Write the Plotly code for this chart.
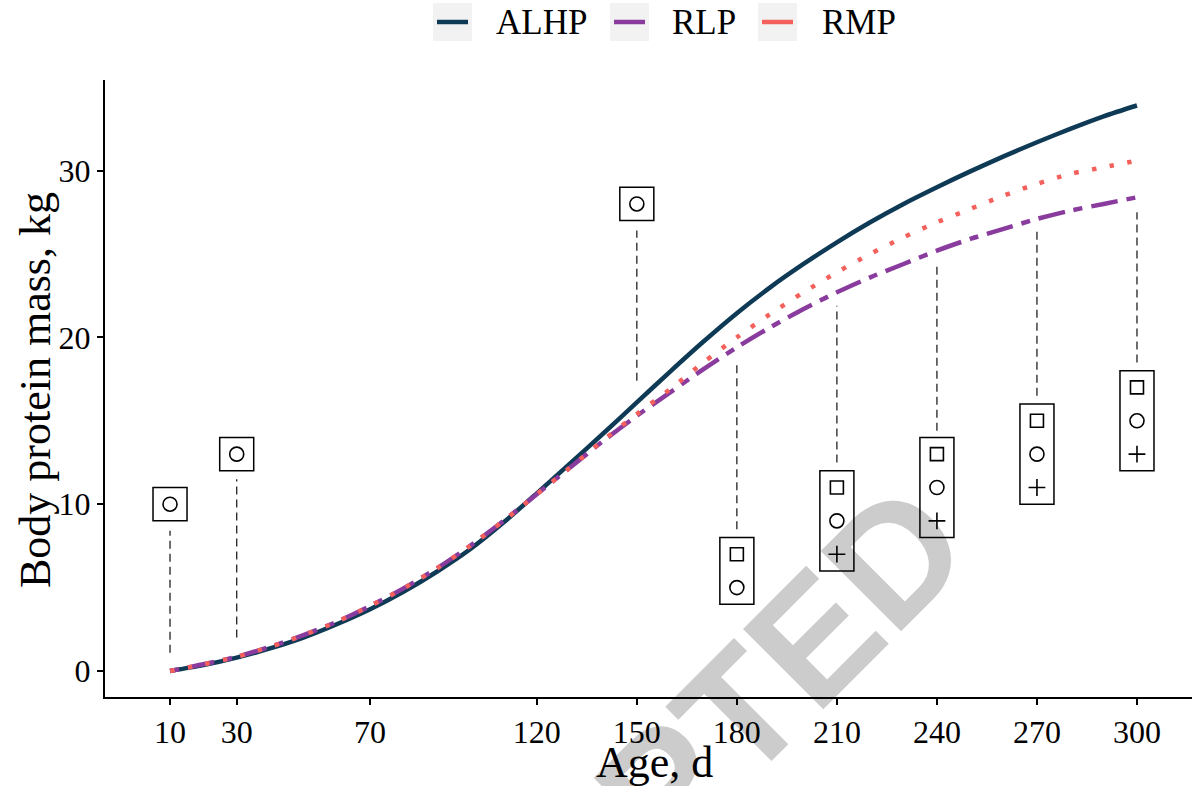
import plotly.graph_objects as go

# ---------------- data ----------------
days = [10, 20, 30, 40, 50, 60, 70, 80, 90, 100, 110, 120, 130, 140, 150,
        160, 170, 180, 190, 200, 210, 220, 230, 240, 250, 260, 270, 280, 290, 300]
alhp = [0.0, 0.35, 0.8, 1.35, 2.0, 2.8, 3.7, 4.75, 5.95, 7.3, 8.9, 10.65, 12.45, 14.25, 16.1,
        17.95, 19.75, 21.45, 23.0, 24.4, 25.7, 26.9, 28.0, 29.0, 29.95, 30.85, 31.7, 32.5, 33.25, 33.9]
rlp = [0.0, 0.4, 0.85, 1.45, 2.15, 2.95, 3.9, 4.95, 6.15, 7.5, 9.0, 10.6, 12.2, 13.8, 15.3,
       16.7, 18.1, 19.4, 20.6, 21.7, 22.7, 23.6, 24.4, 25.2, 25.9, 26.5, 27.1, 27.6, 28.0, 28.4]
rmp = [0.0, 0.4, 0.85, 1.45, 2.15, 2.95, 3.9, 4.95, 6.15, 7.5, 9.0, 10.6, 12.2, 13.85, 15.4,
       16.9, 18.5, 20.0, 21.4, 22.7, 23.9, 25.0, 26.0, 26.9, 27.7, 28.5, 29.2, 29.8, 30.2, 30.6]

series_names = ["ALHP", "RLP", "RMP"]
series_values = [alhp, rlp, rmp]
series_colors = ["#0E3A56", "#8A3C9E", "#F4605B"]

x_ticks = [10, 30, 70, 120, 150, 180, 210, 240, 270, 300]
y_ticks = [0, 10, 20, 30]

# significance labels: symbols stacked in a box above/below the curves
label_x = [10, 30, 150, 180, 210, 240, 270, 300]
label_square_y = [None, None, None, 7, 11, 13, 15, 17]
label_circle_y = [10, 13, 28, 5, 9, 11, 13, 15]
label_plus_y = [None, None, None, None, 7, 9, 11, 13]
seg_low = [1.1, 2.0, 17.4, 8.5, 12.5, 14.4, 16.5, 18.5]
seg_high = [8.4, 11.5, 26.4, 18.5, 21.9, 24.5, 26.4, 27.5]

# ---------------- styling ----------------
SERIF = "Liberation Serif"
line_widths = [4.5, 4.5, 4.5]
line_dashes = ["solid", "9px,9px,27px,9px", "4.5px,13.5px"]

fig = go.Figure()

for name, vals, col, lw, dash in zip(series_names, series_values, series_colors,
                                     line_widths, line_dashes):
    fig.add_trace(go.Scatter(x=days, y=vals, mode="lines", name=name,
                             line=dict(color=col, width=lw, dash=dash, shape="spline", smoothing=0.8),
                             showlegend=False))

# symbols inside the label boxes
fig.add_trace(go.Scatter(x=label_x, y=label_square_y, mode="markers", showlegend=False,
                         marker=dict(symbol="square-open", size=13, color="black",
                                     line=dict(width=1.6, color="black"))))
fig.add_trace(go.Scatter(x=label_x, y=label_circle_y, mode="markers", showlegend=False,
                         marker=dict(symbol="circle-open", size=14, color="black",
                                     line=dict(width=1.6, color="black"))))
fig.add_trace(go.Scatter(x=label_x, y=label_plus_y, mode="markers", showlegend=False,
                         marker=dict(symbol="cross-thin-open", size=12, color="black",
                                     line=dict(width=1.6, color="black"))))

shapes = []
half_w = 5.1
for i, lx in enumerate(label_x):
    ys = [v for v in (label_square_y[i], label_circle_y[i], label_plus_y[i]) if v is not None]
    shapes.append(dict(type="rect", xref="x", yref="y", x0=lx - half_w, x1=lx + half_w,
                       y0=min(ys) - 1, y1=max(ys) + 1,
                       line=dict(color="black", width=1.5), fillcolor="rgba(0,0,0,0)"))
    shapes.append(dict(type="line", xref="x", yref="y", x0=lx, x1=lx,
                       y0=seg_low[i], y1=seg_high[i],
                       line=dict(color="#222222", width=1.3, dash="8px,5px")))

# watermark behind everything
shapes.append(dict(type="rect", xref="paper", yref="paper", x0=0.41, x1=0.51,
                   y0=-0.246, y1=-0.166, layer="below", line=dict(width=0),
                   fillcolor="rgba(0,0,0,0)",
                   label=dict(text="<b>ACCEPTED</b>", textangle=-45, textposition="middle center",
                              font=dict(family="Liberation Sans", size=165, color="#CCCCCC"))))

# custom legend (grey key boxes like the reference)
L, T, W, H = 105, 80, 1087, 617
def px_x(p):
    return (p - L) / W
def px_y(p):
    return (T + H - p) / H

key_left = [433, 610, 758]
text_left = [494, 670, 820]
annotations = []
for name, col, kl, tl in zip(series_names, series_colors, key_left, text_left):
    shapes.append(dict(type="rect", xref="paper", yref="paper",
                       x0=px_x(kl), x1=px_x(kl + 39), y0=px_y(41), y1=px_y(3),
                       line=dict(width=0), fillcolor="#F2F2F2"))
    shapes.append(dict(type="line", xref="paper", yref="paper",
                       x0=px_x(kl + 4), x1=px_x(kl + 35), y0=px_y(22), y1=px_y(22),
                       line=dict(color=col, width=4.5)))
    annotations.append(dict(xref="paper", yref="paper", x=px_x(tl), y=px_y(22),
                            text=name, showarrow=False, xanchor="left", yanchor="middle",
                            font=dict(family=SERIF, size=35, color="black")))

# axis titles
annotations.append(dict(xref="paper", yref="paper", x=px_x(654), y=px_y(762),
                        text="Age, d", showarrow=False, xanchor="center", yanchor="middle",
                        font=dict(family=SERIF, size=44, color="black")))
annotations.append(dict(xref="paper", yref="paper", x=px_x(35), y=px_y(390),
                        text="Body protein mass, kg", showarrow=False, textangle=-90,
                        xanchor="center", yanchor="middle",
                        font=dict(family=SERIF, size=44, color="black")))

fig.update_layout(
    width=1196, height=786,
    margin=dict(l=L, r=1196 - L - W, t=T, b=786 - T - H, autoexpand=False),
    paper_bgcolor="white", plot_bgcolor="white",
    shapes=shapes, annotations=annotations,
    font=dict(family=SERIF, color="black"),
    xaxis=dict(range=[-9.5, 316.5], tickvals=x_ticks, ticktext=[str(v) for v in x_ticks],
               showgrid=False, zeroline=False, showline=True, linecolor="black", linewidth=2,
               ticks="outside", ticklen=6, tickwidth=1.5, tickcolor="black", automargin=False,
               tickfont=dict(family=SERIF, size=32, color="black")),
    yaxis=dict(range=[-1.56, 35.43], tickvals=y_ticks, ticktext=[str(v) for v in y_ticks],
               showgrid=False, zeroline=False, showline=True, linecolor="black", linewidth=2,
               ticks="outside", ticklen=6, tickwidth=1.5, tickcolor="black", automargin=False,
               tickfont=dict(family=SERIF, size=32, color="black")),
)

fig.write_html("out.html", config={"displayModeBar": False},
               post_script="document.body.style.margin='0px';document.body.style.overflow='hidden';")
